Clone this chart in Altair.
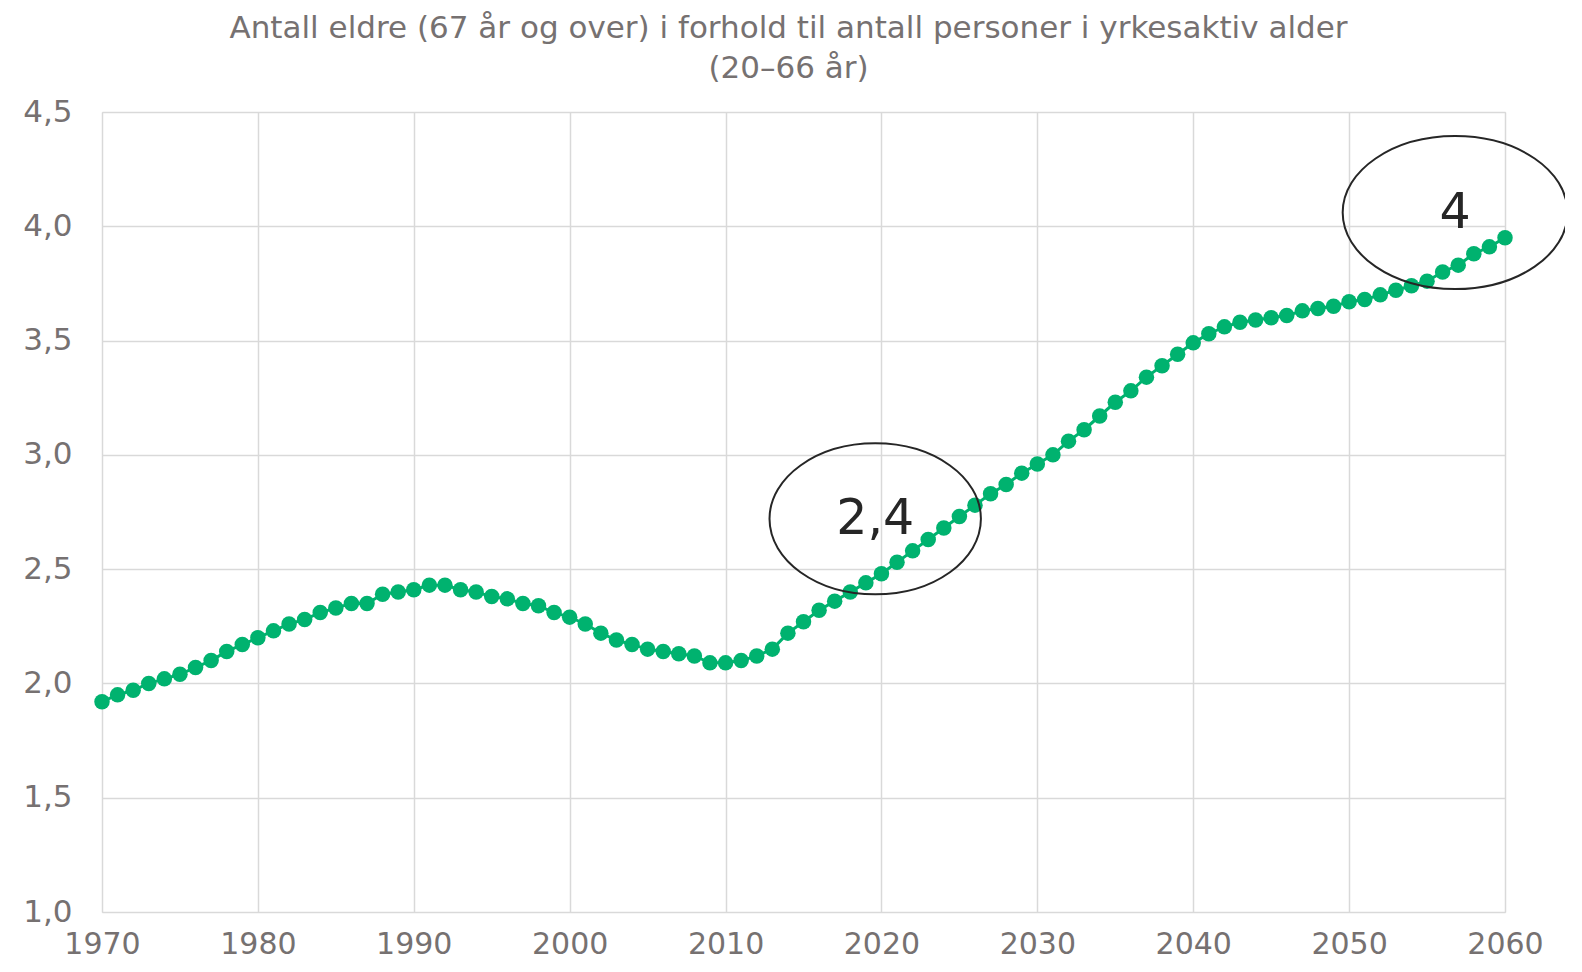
import altair as alt
import pandas as pd

years = list(range(1970, 2061))
ratio = [
    1.92, 1.95, 1.97, 2.00, 2.02, 2.04, 2.07, 2.10, 2.14, 2.17,
    2.20, 2.23, 2.26, 2.28, 2.31, 2.33, 2.35, 2.35, 2.39, 2.40,
    2.41, 2.43, 2.43, 2.41, 2.40, 2.38, 2.37, 2.35, 2.34, 2.31,
    2.29, 2.26, 2.22, 2.19, 2.17, 2.15, 2.14, 2.13, 2.12, 2.09,
    2.09, 2.10, 2.12, 2.15, 2.22, 2.27, 2.32, 2.36, 2.40, 2.44,
    2.48, 2.53, 2.58, 2.63, 2.68, 2.73, 2.78, 2.83, 2.87, 2.92,
    2.96, 3.00, 3.06, 3.11, 3.17, 3.23, 3.28, 3.34, 3.39, 3.44,
    3.49, 3.53, 3.56, 3.58, 3.59, 3.60, 3.61, 3.63, 3.64, 3.65,
    3.67, 3.68, 3.70, 3.72, 3.74, 3.76, 3.80, 3.83, 3.88, 3.91,
    3.95,
]

ann_x = [2019.6, 2056.8]
ann_y = [2.72, 4.06]
ann_label = ["2,4", "4"]

df = pd.DataFrame({"year": years, "ratio": ratio})
ann = pd.DataFrame({"x": ann_x, "y": ann_y, "label": ann_label})

GREEN = "#00b26f"
GRAY = "#767171"
FONT = "DejaVu Sans"

x_enc = alt.X(
    "year:Q",
    scale=alt.Scale(domain=[1970, 2060], nice=False, zero=False),
    axis=alt.Axis(
        values=list(range(1970, 2061, 10)),
        format="d",
        title=None,
        grid=True,
        gridColor="#d9d9d9",
        gridWidth=1.5,
        domain=False,
        ticks=False,
        labelFont=FONT,
        labelFontSize=30,
        labelColor=GRAY,
        labelPadding=17,
        labelFlush=False,
    ),
)
y_enc = alt.Y(
    "ratio:Q",
    scale=alt.Scale(domain=[1.0, 4.5], nice=False, zero=False),
    axis=alt.Axis(
        values=[1.0, 1.5, 2.0, 2.5, 3.0, 3.5, 4.0, 4.5],
        labelExpr="replace(format(datum.value, '.1f'), '.', ',')",
        title=None,
        grid=True,
        gridColor="#d9d9d9",
        gridWidth=1.5,
        domain=False,
        ticks=False,
        labelFont=FONT,
        labelFontSize=31,
        labelColor=GRAY,
        labelPadding=30,
    ),
)

base = alt.Chart(df)
line = base.mark_line(color=GREEN, strokeWidth=3).encode(x=x_enc, y=y_enc)
pts = base.mark_circle(color=GREEN, size=240, opacity=1).encode(x="year:Q", y="ratio:Q")

ann1 = alt.Chart(ann.iloc[[0]]).mark_point(
    shape="M -1.4 0 A 1.4 1 0 1 1 1.4 0 A 1.4 1 0 1 1 -1.4 0 Z",
    size=22800, filled=False, stroke="#262626", strokeWidth=2, opacity=1,
).encode(x="x:Q", y="y:Q")
ann2 = alt.Chart(ann.iloc[[1]]).mark_point(
    shape="M -1.47 0 A 1.47 1 0 1 1 1.47 0 A 1.47 1 0 1 1 -1.47 0 Z",
    size=23400, filled=False, stroke="#262626", strokeWidth=2, opacity=1,
).encode(x="x:Q", y="y:Q")
labels = alt.Chart(ann).mark_text(
    font=FONT, fontSize=49, color="#262626", baseline="middle", align="center",
).encode(x="x:Q", y="y:Q", text="label:N")

chart = (
    alt.layer(line, pts, ann1, ann2, labels)
    .properties(
        width=1403,
        height=800,
        title=alt.TitleParams(
            text=["Antall eldre (67 år og over) i forhold til antall personer i yrkesaktiv alder", "(20–66 år)"],
            font=FONT,
            fontSize=31,
            fontWeight="normal",
            color=GRAY,
            anchor="middle",
            dx=-15,
            offset=11,
            lineHeight=40,
        ),
        autosize=alt.AutoSizeParams(type="none"),
        padding={"left": 94, "top": 104, "right": 60, "bottom": 52},
    )
    .configure_view(stroke=None)
    .configure(background="white")
)

chart.save("out.html", embed_options={"renderer": "svg", "actions": False})
